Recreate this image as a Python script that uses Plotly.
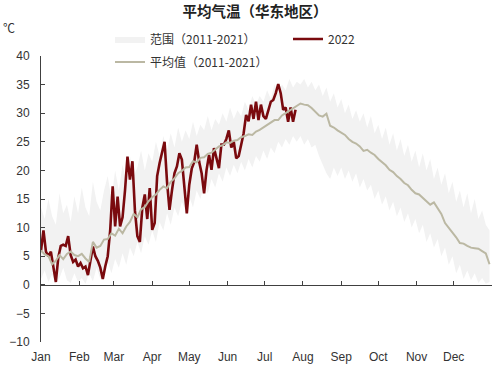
import pandas as pd
import plotly.graph_objects as go

# ---------------- data ----------------
month_starts = ["2022-01-01", "2022-02-01", "2022-03-01", "2022-04-01", "2022-05-01", "2022-06-01",
                "2022-07-01", "2022-08-01", "2022-09-01", "2022-10-01", "2022-11-01", "2022-12-01"]
month_labels = ["Jan", "Feb", "Mar", "Apr", "May", "Jun", "Jul", "Aug", "Sep", "Oct", "Nov", "Dec"]
year_end = "2023-01-01"

# 2022 daily mean temperature, sampled every 2 days from Jan 1
temp_2022 = [6.0, 9.5, 5.8, 5.0, 5.8, 2.8, 0.5, 4.8, 6.8, 7.0,
             6.8, 8.5, 5.2, 4.0, 4.4, 3.2, 3.8, 2.9, 3.2, 1.7,
             4.5, 6.7, 5.0, 4.2, 3.0, 1.0, 3.2, 5.0, 9.5, 17.2,
             10.2, 15.4, 10.2, 11.8, 16.5, 22.4, 18.4, 21.6, 13.0, 8.5,
             7.5, 13.5, 15.8, 11.5, 16.9, 9.6, 10.8, 19.0, 21.3, 23.0,
             25.0, 18.0, 13.1, 16.5, 19.5, 20.7, 23.0, 21.9, 17.2, 12.5,
             17.5, 20.3, 21.5, 24.5, 21.5, 19.5, 16.0, 20.1, 22.7, 20.1,
             23.9, 21.9, 20.4, 24.5, 24.5, 25.5, 27.0, 24.0, 25.0, 22.1,
             22.5, 24.5, 26.5, 29.7, 28.6, 31.5, 29.0, 32.0, 28.8, 31.5,
             29.5, 29.0, 30.5, 32.0, 32.3, 33.5, 35.1, 33.5, 30.6, 31.0,
             28.5, 31.0, 28.5, 30.6]

# 2011-2021 average, sampled every 3 days from Jan 1
mean_hist = [6.0, 5.3, 5.0, 3.6, 4.2, 5.2, 4.5, 5.4, 5.8, 5.2,
             5.0, 5.4, 4.6, 4.0, 7.5, 6.5, 6.8, 7.9, 8.0, 9.0,
             8.6, 9.8, 9.0, 10.2, 11.0, 12.4, 11.8, 13.2, 13.6, 14.6,
             15.3, 15.8, 16.6, 17.2, 16.9, 18.0, 18.6, 19.5, 19.9, 20.5,
             20.6, 21.6, 21.4, 22.2, 22.3, 22.9, 23.1, 23.6, 24.2, 24.4,
             24.9, 24.8, 25.2, 25.3, 25.8, 26.0, 26.3, 26.2, 26.8, 27.1,
             27.5, 28.0, 28.3, 28.8, 28.8, 29.6, 30.0, 30.4, 30.8, 31.2,
             31.7, 31.5, 31.4, 30.9, 30.2, 29.6, 29.4, 29.9, 27.8, 27.5,
             27.0, 26.6, 26.2, 25.5, 25.0, 24.7, 24.2, 23.4, 23.6, 23.1,
             22.7, 22.0, 21.4, 20.9, 20.1, 19.7, 19.0, 18.5, 17.8, 17.4,
             16.6, 16.0, 15.8, 15.2, 14.6, 14.0, 14.4, 13.4, 12.4, 10.8,
             10.0, 9.0, 8.3, 7.3, 7.2, 6.8, 6.5, 6.4, 6.3, 5.9,
             5.5, 3.6]

# 2011-2021 range (max / min), sampled every 3 days from Jan 1
range_max = [13.5, 11.5, 15.0, 12.0, 10.5, 16.0, 12.5, 14.0, 11.0, 15.5,
             12.5, 17.0, 13.5, 12.0, 18.0, 14.5, 13.0, 16.5, 19.0, 15.0,
             20.0, 16.5, 21.0, 18.0, 22.5, 19.0, 20.5, 23.5, 20.0, 23.0,
             21.5, 25.0, 22.5, 26.0, 23.5, 26.5, 24.0, 27.5, 25.0, 27.0,
             25.5, 28.5, 26.0, 28.0, 27.0, 29.5, 27.0, 29.0, 28.0, 30.0,
             28.5, 31.0, 29.0, 30.5, 29.5, 32.0, 30.5, 33.0, 31.5, 33.0,
             32.0, 34.0, 32.5, 35.0, 33.5, 35.0, 34.0, 36.0, 34.5, 35.5,
             35.0, 36.0, 34.5, 35.5, 34.0, 35.0, 33.0, 34.5, 32.0, 33.5,
             31.0, 32.5, 30.0, 31.5, 29.0, 30.5, 28.5, 30.0, 27.5, 29.5,
             26.5, 28.0, 25.5, 27.5, 24.5, 26.5, 23.5, 25.5, 22.5, 24.5,
             21.5, 23.5, 20.5, 23.0, 20.0, 22.0, 18.5, 20.5, 17.5, 19.5,
             16.0, 18.0, 14.5, 16.5, 13.5, 16.0, 12.5, 15.0, 11.5, 13.0,
             10.5, 9.5]
range_min = [1.0, 2.5, 0.5, 1.8, 0.2, 1.2, 3.0, 0.8, 0.3, 2.0,
             0.5, 1.2, 0.2, 2.0, 0.6, 3.0, 1.0, 2.5, 4.0, 2.0,
             4.5, 3.0, 5.5, 3.5, 6.5, 5.0, 7.5, 5.5, 8.5, 7.0,
             9.5, 7.5, 11.0, 9.5, 12.5, 10.5, 13.5, 12.0, 14.5, 13.0,
             15.5, 13.5, 16.5, 15.0, 17.5, 16.0, 18.5, 17.0, 19.5, 18.0,
             20.5, 19.0, 21.0, 19.5, 21.5, 20.0, 22.0, 20.5, 22.5, 21.5,
             23.5, 22.0, 24.0, 23.0, 25.0, 24.0, 25.5, 24.5, 26.0, 25.0,
             26.0, 24.5, 25.5, 24.0, 24.5, 22.5, 21.0, 19.5, 18.5, 20.5,
             19.0, 20.5, 18.5, 20.0, 18.0, 19.5, 17.0, 18.5, 16.5, 17.5,
             15.0, 16.5, 14.0, 15.5, 13.0, 14.5, 12.0, 13.5, 11.0, 12.5,
             10.0, 11.5, 9.0, 10.5, 7.5, 9.0, 6.5, 8.0, 5.0, 6.5,
             3.5, 5.0, 2.0, 3.5, 1.0, 2.5, 0.8, 2.0, 0.3, 1.2,
             0.2, 0.5]

dates_2022 = pd.date_range("2022-01-01", periods=len(temp_2022), freq="2D")
dates_hist = pd.date_range("2022-01-01", periods=len(mean_hist), freq="3D")

# ---------------- figure ----------------
CJK = "Noto Sans CJK SC"
LATIN = "Liberation Sans, Arial, sans-serif"
TXT = "#333333"
AX = "#404040"
BAND = "#f2f2f2"

fig = go.Figure()
fig.add_trace(go.Scatter(x=dates_hist, y=range_min, mode="lines", line=dict(width=0, color=BAND),
                         showlegend=False, hoverinfo="skip"))
fig.add_trace(go.Scatter(x=dates_hist, y=range_max, mode="lines", line=dict(width=0, color=BAND),
                         fill="tonexty", fillcolor=BAND, name="范围（2011-2021）",
                         legend="legend", legendrank=1))
fig.add_trace(go.Scatter(x=dates_2022, y=temp_2022, mode="lines", line=dict(width=2.6, color="#7a0a0e"),
                         name="2022", legend="legend", legendrank=2))
fig.add_trace(go.Scatter(x=dates_hist, y=mean_hist, mode="lines", line=dict(width=2, color="#bbb8a3"),
                         name="平均值（2011-2021）", legend="legend2", xaxis="x2"))

xr = ["2022-01-01", year_end]
fig.update_layout(
    width=500, height=367,
    margin=dict(l=41, r=8, t=56, b=25),
    paper_bgcolor="white", plot_bgcolor="white",
    font=dict(family=LATIN, size=12, color=TXT),
    title=dict(text="<b>平均气温（华东地区）</b>", x=0.51, xanchor="center", y=1 - 12 / 367, yanchor="middle",
               font=dict(family=CJK, size=14.5, color="#222222")),
    xaxis=dict(type="date", range=xr, tickvals=month_starts, ticktext=month_labels, automargin=False,
               showline=False, ticks="", showgrid=False, zeroline=False, ticklabelstandoff=6,
               tickfont=dict(family=LATIN, size=12, color=TXT)),
    xaxis2=dict(type="date", range=xr, overlaying="x", anchor="free", position=0.2, side="bottom",
                matches="x", showline=True, linecolor=AX, linewidth=1, ticks="inside", ticklen=4,
                tickcolor=AX, tickvals=month_starts + [year_end], showticklabels=False,
                showgrid=False, zeroline=False, automargin=False),
    yaxis=dict(range=[-10, 40], dtick=5, tick0=0, showline=True, linecolor=AX, linewidth=1,
               ticks="inside", ticklen=4, tickcolor=AX, showgrid=False, zeroline=False, automargin=False,
               tickfont=dict(family=LATIN, size=12, color=TXT), ticklabelstandoff=8),
    legend=dict(orientation="h", x=(110 - 41) / 451, y=(342 - 24.5) / 286,
                xanchor="left", yanchor="top", traceorder="normal",
                entrywidth=133, font=dict(family=CJK, size=12, color=TXT), bgcolor="rgba(0,0,0,0)"),
    legend2=dict(orientation="h", x=(110 - 41) / 451, y=(342 - 47.5) / 286,
                 xanchor="left", yanchor="top",
                 font=dict(family=CJK, size=12, color=TXT), bgcolor="rgba(0,0,0,0)"),
    annotations=[dict(text="℃", xref="paper", yref="paper", x=(9 - 41) / 451, y=(342 - 28) / 286,
                      xanchor="center", yanchor="middle", showarrow=False,
                      font=dict(family=CJK, size=12, color=TXT))],
)

fig.write_html("out.html", config={"displayModeBar": False},
               post_script="document.body.style.margin='0';")
